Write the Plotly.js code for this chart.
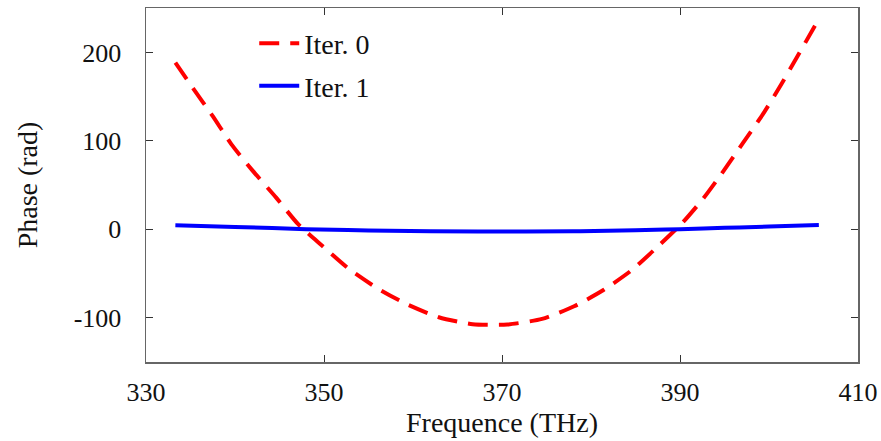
<!DOCTYPE html>
<html>
<head>
<meta charset="utf-8">
<script src="https://cdn.plot.ly/plotly-3.0.1.min.js"></script>
<style>html,body{margin:0;padding:0;background:#fff;}#chart{width:881px;height:441px;}</style>
</head>
<body>
<div id="chart"></div>
<script>
// Iter. 0 (red dashed)
const iter0Freq = [333.3, 335.25, 337.5, 339.6, 342.0, 344.6, 347.1, 349.8, 352.8, 356.0, 359.3, 362.9, 366.7, 370.6, 374.5, 378.1, 381.4, 384.6, 387.4, 390.3, 392.7, 394.9, 397.1, 399.3, 401.3, 403.2, 405.6];
const iter0Phase = [188.5, 160, 128, 96, 66, 36, 5.6, -18.8, -45, -67, -85, -99.8, -107.7, -108, -101.7, -87.4, -69, -46.3, -20.7, 7.5, 35.8, 66, 98, 130, 162.7, 195.8, 238];
// Iter. 1 (blue solid)
const iter1Freq = [333.3, 340, 348, 355, 362, 370, 378, 385, 390, 395, 400, 405.6];
const iter1Phase = [4.5, 2.5, 0, -1.5, -2.5, -2.8, -2.5, -1.2, 0, 1.5, 3, 4.8];
const xTicks = [330, 350, 370, 390, 410];
const yTicks = [-100, 0, 100, 200];

const FONT = 'Liberation Serif, DejaVu Serif, serif';
const FS = 26;

const traces = [
  {x: iter0Freq, y: iter0Phase, type: 'scatter', mode: 'lines', name: 'Iter. 0',
   legendgroup: 'a', line: {color: '#ff0000', width: 4, dash: '20px,11px', shape: 'spline', smoothing: 0.6}},
  {x: iter1Freq, y: iter1Phase, type: 'scatter', mode: 'lines', name: 'Iter. 1',
   legendgroup: 'b', line: {color: '#0000ff', width: 4, shape: 'spline'}}
];

const layout = {
  width: 881, height: 441,
  margin: {l: 146, r: 23, t: 8, b: 79},
  paper_bgcolor: '#fff', plot_bgcolor: '#fff',
  font: {family: FONT, size: FS, color: '#111'},
  showlegend: true,
  legend: {x: 0.152, y: 0.97, xanchor: 'left', yanchor: 'top', bgcolor: 'rgba(0,0,0,0)',
           itemwidth: 40,
           font: {family: FONT, size: 28, color: '#111'}, traceorder: 'grouped', tracegroupgap: 3},
  xaxis: {
    range: [330, 410], tickvals: xTicks, ticktext: xTicks.map(String),
    showgrid: false, zeroline: false, showline: true, mirror: 'ticks',
    linecolor: '#666', linewidth: 1.5, ticks: 'inside', ticklen: 7, tickcolor: '#333',
    ticklabelstandoff: 6,
    tickfont: {family: FONT, size: FS, color: '#111'},
    title: {text: 'Frequence (THz)', font: {family: FONT, size: 28, color: '#111'}, standoff: 6}
  },
  yaxis: {
    range: [-150.5, 250.5], tickvals: yTicks, ticktext: yTicks.map(String),
    showgrid: false, zeroline: false, showline: true, mirror: 'ticks',
    linecolor: '#666', linewidth: 1.5, ticks: 'inside', ticklen: 7, tickcolor: '#333',
    ticklabelstandoff: 18,
    tickfont: {family: FONT, size: FS, color: '#111'},
    title: {text: 'Phase (rad)', font: {family: FONT, size: 28, color: '#111'}, standoff: 28}
  }
};

Plotly.newPlot('chart', traces, layout, {displayModeBar: false, staticPlot: true});
</script>
</body>
</html>
